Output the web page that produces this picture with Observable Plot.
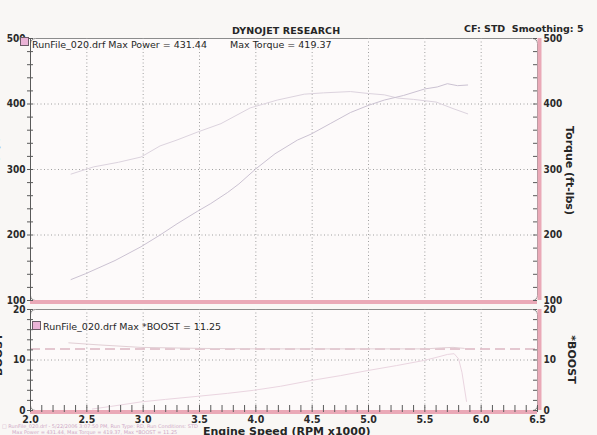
<!DOCTYPE html>
<html><head><meta charset="utf-8">
<script src="https://cdn.jsdelivr.net/npm/d3@7"></script>
<script src="https://cdn.jsdelivr.net/npm/@observablehq/plot@0.6"></script>
<style>
html,body{margin:0;padding:0;background:#f9f7f5;}
#wrap{position:relative;width:597px;height:435px;overflow:hidden;font-family:"DejaVu Sans",Verdana,sans-serif;color:#262626;}
.abs{position:absolute;white-space:nowrap;line-height:1;}
#top,#bot{position:absolute;left:0;}
#top{top:0px;} #bot{top:300px;}
.sq{position:absolute;width:7px;height:7px;background:#eab3d6;border:1px solid #6a5a66;}
.rot{position:absolute;white-space:nowrap;line-height:1;font-weight:bold;font-size:11px;transform-origin:center center;}
</style></head><body>
<div id="wrap">
  <div id="top"></div>
  <div id="bot"></div>
  <div class="abs" id="title" style="left:232px;top:26px;font-size:9.5px;font-weight:bold;letter-spacing:0.1px;">DYNOJET RESEARCH</div>
  <div class="abs" id="cf" style="left:464px;top:24px;font-size:9.5px;font-weight:bold;">CF: STD&nbsp; Smoothing: 5</div>
  <div class="sq" style="left:20px;top:37px;"></div>
  <div class="abs" id="leg1" style="left:32px;top:40px;font-size:9.5px;"></div>
  <div class="abs" id="leg1b" style="left:230px;top:40px;font-size:9.5px;"></div>
  <div class="sq" style="left:32px;top:321px;"></div>
  <div class="abs" id="leg2" style="left:43px;top:322px;font-size:9.5px;"></div>
  <div class="rot" id="ylab1" style="left:-40px;top:165px;transform:rotate(-90deg);">Power (hp)</div>
  <div class="rot" id="ylab2" style="left:-26px;top:352px;transform:rotate(-90deg);">*BOOST</div>
  <div class="rot" id="ylab1r" style="left:525px;top:165px;transform:rotate(90deg);">Torque (ft-lbs)</div>
  <div class="rot" id="ylab2r" style="left:547px;top:354px;transform:rotate(90deg);">*BOOST</div>
  <div class="abs" style="left:2px;top:424px;font-size:5px;color:#cfa9c6;">&#9633; RunFile_020.drf - 5/22/2006 3:07:50 PM, Run Type: RD, Run Conditions: STD</div>
  <div class="abs" style="left:12px;top:430px;font-size:5px;color:#cfa9c6;">Max Power = 431.44, Max Torque = 419.37, Max *BOOST = 11.25</div>
  <div class="abs" id="xlab" style="left:203px;top:426px;font-size:11px;font-weight:bold;">Engine Speed (RPM x1000)</div>
</div>
<script>
// ---- data ----
const fileName = "RunFile_020.drf";
const maxPower = 431.44;
const maxTorque = 419.37;
const maxBoost = 11.25;

const xTicks = [2.0, 2.5, 3.0, 3.5, 4.0, 4.5, 5.0, 5.5, 6.0, 6.5];
const upperTicks = [100, 200, 300, 400, 500];
const lowerTicks = [0, 10, 20];

const powerRpm = [2.36, 2.49, 2.75, 2.98, 3.15, 3.30, 3.48, 3.60, 3.75, 3.85, 4.00, 4.17, 4.37, 4.49, 4.66, 4.84, 5.00, 5.14, 5.31, 5.50, 5.61, 5.70, 5.79, 5.88];
const powerHp  = [132, 141, 161, 182, 200, 217, 236, 248, 265, 278, 301, 324, 345, 354, 370, 387, 398, 406, 413, 423, 426, 431, 428, 429];

const torqueRpm = [2.36, 2.56, 2.78, 2.98, 3.15, 3.30, 3.48, 3.69, 3.95, 4.19, 4.43, 4.60, 4.84, 5.00, 5.14, 5.26, 5.40, 5.60, 5.75, 5.88];
const torqueFt  = [293, 304, 311, 319, 336, 345, 357, 370, 394, 406, 415, 417, 419, 416, 414, 409, 407, 403, 393, 385];

const boostRpm = [2.55, 2.71, 2.98, 3.20, 3.48, 3.75, 3.98, 4.22, 4.48, 4.75, 4.99, 5.25, 5.49, 5.60, 5.70, 5.76, 5.80, 5.83, 5.87];
const boostPsi = [0.3, 0.8, 1.7, 2.2, 2.8, 3.4, 4.0, 4.8, 5.9, 6.9, 7.9, 8.9, 9.9, 10.5, 11.1, 11.25, 10.2, 7.5, 1.8];

const traceRpm = [2.34, 2.60, 2.98, 3.50, 4.00, 4.50, 5.00, 5.50, 5.65, 5.75, 5.85];
const traceVal = [13.4, 13.0, 12.5, 12.3, 12.2, 12.2, 12.2, 12.2, 12.4, 12.5, 12.3];

const refLevel = [12.2];

// ---- derived tables ----
const power = powerRpm.map((x, i) => ({x, y: powerHp[i]}));
const torque = torqueRpm.map((x, i) => ({x, y: torqueFt[i]}));
const boost = boostRpm.map((x, i) => ({x, y: boostPsi[i]}));
const trace = traceRpm.map((x, i) => ({x, y: traceVal[i]}));
const xGrid = xTicks.slice(1, -1);
const upperMinor = d3.range(100, 501, 20);
const lowerMinor = d3.range(0, 21, 2);
const xMinor = d3.range(20, 66).map(d => d / 10);

document.getElementById("leg1").textContent = `${fileName} Max Power = ${maxPower.toFixed(2)}`;
document.getElementById("leg1b").textContent = `Max Torque = ${maxTorque.toFixed(2)}`;
document.getElementById("leg2").textContent = `${fileName} Max *BOOST = ${maxBoost.toFixed(2)}`;

const pink = "#eaa9b7";
const axisColor = "#5a5a5a";
const font = {background: "transparent", fontFamily: "'DejaVu Sans Condensed','DejaVu Sans',sans-serif", fontSize: "10px", fontWeight: "bold", color: "#2a2a2a", overflow: "visible"};

const topPlot = Plot.plot({
  width: 597, height: 305,
  marginTop: 38, marginBottom: 5, marginLeft: 30, marginRight: 60,
  style: font,
  x: {domain: [2.0, 6.5], axis: null},
  y: {domain: [100, 500], axis: null},
  marks: [
    Plot.frame({fill: "#fdfafa", stroke: "#8c8c8c", rx: 5}),
    Plot.ruleX(xGrid, {stroke: "#a0a0a0", strokeDasharray: "1,2.5"}),
    Plot.ruleY(upperTicks.slice(1, -1), {stroke: "#a0a0a0", strokeDasharray: "1,2.5"}),
    Plot.line(torque, {x: "x", y: "y", stroke: "#dcd3de", strokeWidth: 1}),
    Plot.line(power, {x: "x", y: "y", stroke: "#cbc2d2", strokeWidth: 1}),
    Plot.ruleX([2.0], {stroke: axisColor}),
    Plot.ruleX([6.5], {stroke: pink, strokeWidth: 4, dx: 2}),
    Plot.ruleY([100], {stroke: pink, strokeWidth: 4, dy: 1.5}),
    Plot.axisY({anchor: "left", ticks: upperMinor, tickSize: 3, tickPadding: 2, tickFormat: d => d % 100 === 0 ? d : "", label: null, stroke: axisColor}),
    Plot.tickY(upperMinor, {y: d => d, insetRight: 504, stroke: axisColor}),
    Plot.tickY(upperMinor, {y: d => d, insetLeft: 503, stroke: axisColor}),
    Plot.axisY({anchor: "right", ticks: upperTicks, tickSize: 0, tickPadding: 6, label: null})
  ]
});
document.getElementById("top").appendChild(topPlot);

const botPlot = Plot.plot({
  width: 597, height: 135,
  marginTop: 9, marginBottom: 25, marginLeft: 30, marginRight: 60,
  style: font,
  x: {domain: [2.0, 6.5]},
  y: {domain: [0, 20], axis: null},
  marks: [
    Plot.frame({fill: "#fdfafa", stroke: "#8c8c8c", rx: 5}),
    Plot.ruleX(xGrid, {stroke: "#a0a0a0", strokeDasharray: "1,2.5"}),
    Plot.ruleY([10], {stroke: "#a0a0a0", strokeDasharray: "1,2.5"}),
    Plot.ruleY(refLevel, {stroke: "#dbb7c2", strokeWidth: 1.5, strokeDasharray: "10,5"}),
    Plot.line(trace, {x: "x", y: "y", stroke: "#e2cfd5", strokeWidth: 1}),
    Plot.line(boost, {x: "x", y: "y", stroke: "#ead5e0", strokeWidth: 1}),
    Plot.ruleX([2.0], {stroke: axisColor}),
    Plot.ruleX([6.5], {stroke: pink, strokeWidth: 4, dx: 2}),
    Plot.ruleY([0], {stroke: pink, strokeWidth: 4, dy: 1.5}),
    Plot.tickX(xMinor, {x: d => d, insetTop: 96, insetBottom: -2, stroke: axisColor}),
    Plot.axisY({anchor: "left", ticks: lowerMinor, tickSize: 3, tickPadding: 2, tickFormat: d => d % 10 === 0 ? d : "", label: null, stroke: axisColor}),
    Plot.tickY(lowerMinor, {y: d => d, insetRight: 504, stroke: axisColor}),
    Plot.tickY(lowerMinor, {y: d => d, insetLeft: 503, stroke: axisColor}),
    Plot.axisY({anchor: "right", ticks: lowerTicks, tickSize: 0, tickPadding: 6, label: null}),
    Plot.axisX({anchor: "bottom", ticks: xTicks, tickFormat: d3.format(".1f"), tickSize: 0, tickPadding: 5, label: null, fontSize: 10.5})
  ]
});
document.getElementById("bot").appendChild(botPlot);
</script>
</body></html>
